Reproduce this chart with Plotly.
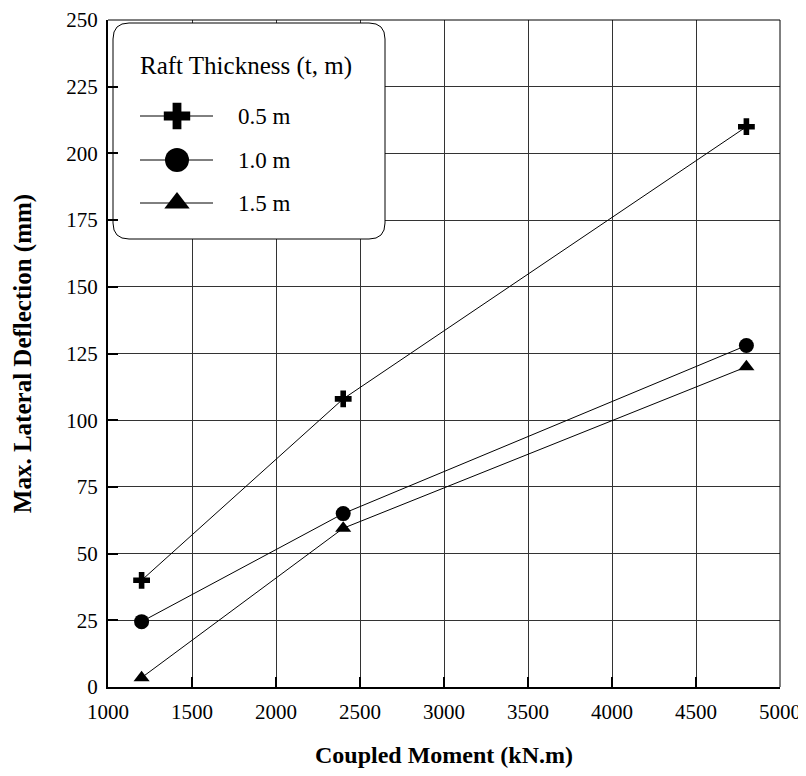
import plotly.graph_objects as go

moments = [1200, 2400, 4800]
defl_05 = [40, 108, 210]
defl_10 = [24.5, 65, 128]
defl_15 = [3.5, 59.5, 120]

series_names = ["0.5 m", "1.0 m", "1.5 m"]
series_values = [defl_05, defl_10, defl_15]
symbols = ["cross", "circle", "triangle-up"]
sizes = [14, 15, 14]

x_ticks = [1000, 1500, 2000, 2500, 3000, 3500, 4000, 4500, 5000]
y_ticks = [0, 25, 50, 75, 100, 125, 150, 175, 200, 225, 250]
X_RANGE = [1000, 5000]
Y_RANGE = [0, 250]

FONT = "Liberation Serif"
PLOT_W = 672
PLOT_H = 667

def ox(px):  # offset in plot pixels from left -> x data
    return X_RANGE[0] + px / PLOT_W * (X_RANGE[1] - X_RANGE[0])

def oy(py):  # offset in plot pixels from bottom -> y data
    return Y_RANGE[0] + py / PLOT_H * (Y_RANGE[1] - Y_RANGE[0])

fig = go.Figure()
for name, vals, sym, sz in zip(series_names, series_values, symbols, sizes):
    fig.add_trace(go.Scatter(
        x=moments, y=vals, name=name, mode="lines+markers",
        line=dict(color="black", width=1),
        marker=dict(symbol=sym, size=sz, color="black", opacity=1, line=dict(width=0)),
        showlegend=False,
    ))

# manual legend box (rounded) in plot-pixel offsets
bx0, bx1, by0, by1, r = 5, 277, 448, 664, 16
pts = lambda a, b: f"{ox(a)},{oy(b)}"
path = (f"M{pts(bx0+r, by1)} L{pts(bx1-r, by1)} Q{pts(bx1, by1)} {pts(bx1, by1-r)} "
        f"L{pts(bx1, by0+r)} Q{pts(bx1, by0)} {pts(bx1-r, by0)} "
        f"L{pts(bx0+r, by0)} Q{pts(bx0, by0)} {pts(bx0, by0+r)} "
        f"L{pts(bx0, by1-r)} Q{pts(bx0, by1)} {pts(bx0+r, by1)} Z")
shapes = [dict(type="path", path=path, xref="x", yref="y",
               line=dict(color="black", width=1), fillcolor="white", layer="between")]
leg_rows = [571, 527, 484]
for yy in leg_rows:
    shapes.append(dict(type="line", xref="x", yref="y", x0=ox(32), x1=ox(105),
                       y0=oy(yy), y1=oy(yy),
                       line=dict(color="black", width=1), layer="between"))
# thin top and right frame lines
shapes.append(dict(type="line", xref="paper", yref="paper", x0=0, x1=1, y0=1, y1=1,
                   line=dict(color="black", width=1)))
shapes.append(dict(type="line", xref="paper", yref="paper", x0=1, x1=1, y0=0, y1=1,
                   line=dict(color="black", width=1)))

fig.add_trace(go.Scatter(
    x=[ox(69)] * 3, y=[oy(v) for v in leg_rows], mode="markers",
    marker=dict(symbol=symbols, size=[22, 24, 22], color="black", opacity=1,
                line=dict(width=0)),
    showlegend=False, hoverinfo="skip",
))

annotations = [dict(text="Raft Thickness (t, m)", xref="x", yref="y", x=ox(30), y=oy(621),
                    xanchor="left", yanchor="middle", showarrow=False,
                    font=dict(family=FONT, size=25, color="black"))]
for name, yy in zip(series_names, leg_rows):
    annotations.append(dict(text=name, xref="x", yref="y", x=ox(128), y=oy(yy),
                            xanchor="left", yanchor="middle", showarrow=False,
                            font=dict(family=FONT, size=23, color="black")))

fig.update_layout(
    width=798, height=760,
    margin=dict(l=100, r=26, t=12, b=81),
    paper_bgcolor="white", plot_bgcolor="white",
    font=dict(family=FONT, size=21, color="black"),
    shapes=shapes, annotations=annotations,
    xaxis=dict(range=X_RANGE, tickvals=x_ticks, ticks="inside", ticklen=10, tickwidth=2,
               tickcolor="black", showline=True, linecolor="black", linewidth=2,
               showgrid=True, gridcolor="#333", gridwidth=1, zeroline=False,
               ticklabelstandoff=5, ticklabeloverflow="allow", automargin=False,
               title=dict(text="<b>Coupled Moment (kN.m)</b>", standoff=28,
                          font=dict(family=FONT, size=24))),
    yaxis=dict(range=Y_RANGE, tickvals=y_ticks, ticks="inside", ticklen=10, tickwidth=2,
               tickcolor="black", showline=True, linecolor="black", linewidth=2,
               showgrid=True, gridcolor="#333", gridwidth=1, zeroline=False,
               ticklabelstandoff=4, ticklabeloverflow="allow", automargin=False,
               title=dict(text="<b>Max. Lateral Deflection (mm)</b>", standoff=28,
                          font=dict(family=FONT, size=25))),
)

fig.write_html("out.html")
